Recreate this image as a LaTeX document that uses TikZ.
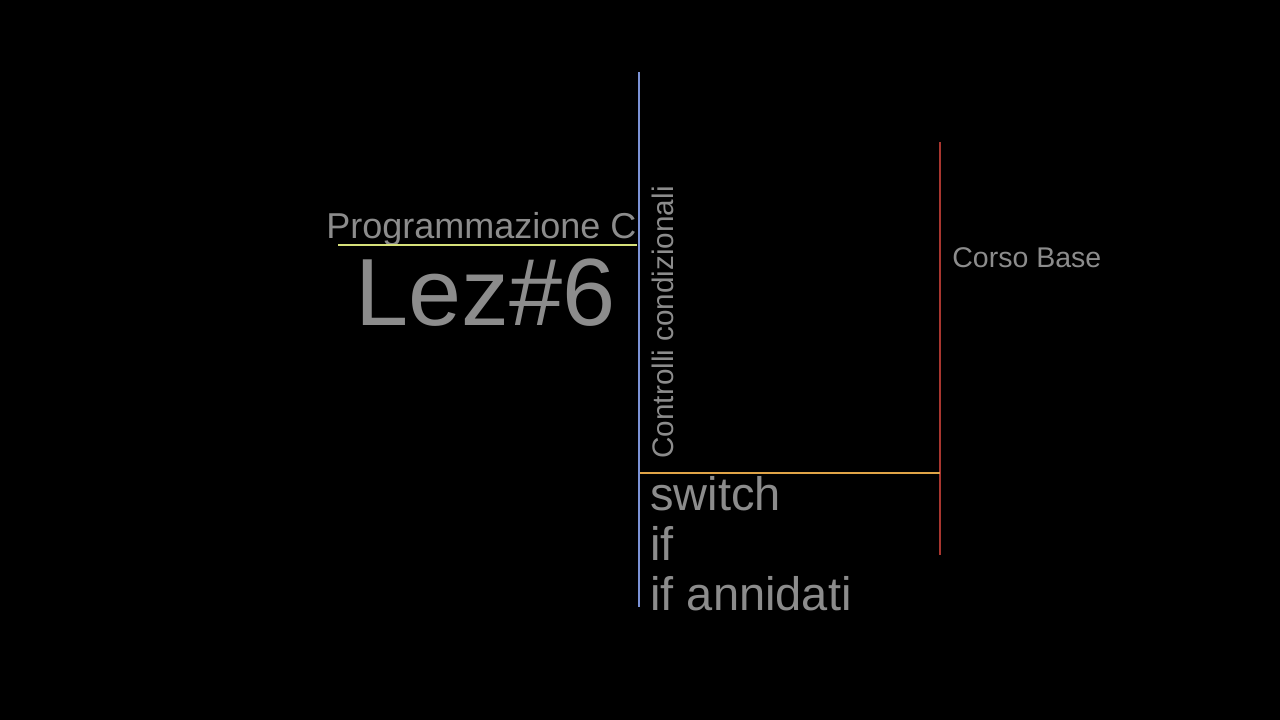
\documentclass[tikz,border=0pt]{standalone}
\usepackage{fontspec}
\setmainfont{Liberation Sans}
\usetikzlibrary{positioning, calc}

\definecolor{txtgray}{HTML}{8C8C8C}
\definecolor{lnblue}{HTML}{7C93D6}
\definecolor{lnyellow}{HTML}{D6E07A}
\definecolor{lnorange}{HTML}{E0A447}
\definecolor{lnred}{HTML}{A8362F}

\begin{document}
\begin{tikzpicture}[x=1pt, y=-1pt, thick,
		label/.style={text=txtgray, inner sep=0pt, anchor=base west},
		bar/.style={line width=1.5pt}]
		\fill[black] (0,0) rectangle (1280,720);
		\useasboundingbox (0,0) rectangle (1280,720);

		%Titolo:
		\node[label, font=\fontsize{36}{40}\selectfont]	(prog)	at (326,238)	{Programmazione C};
		\node[label, font=\fontsize{95.5}{100}\selectfont]	(lez)	at (355,325)	{Lez\#6};
		\node[label, font=\fontsize{29.7}{34}\selectfont, rotate=90]	(ctrl)	at (673,459)	{Controlli condizionali};
		\node[label, font=\fontsize{28.5}{32}\selectfont]	(corso)	at (952,267)	{Corso Base};

		%Argomenti:
		\node[label, font=\fontsize{47}{50}\selectfont]	(sw)	at (650,510)	{switch};
		\node[label, font=\fontsize{47}{50}\selectfont]	(if)	at ($(sw.base west)+(0,50)$)	{if};
		\node[label, font=\fontsize{47}{50}\selectfont]	(ifann)	at ($(if.base west)+(0,50)$)	{if annidati};

		%Linee:
		\coordinate (bt) at (639,72);
		\coordinate (bb) at (639,607);
		\coordinate (rt) at (940,142);
		\coordinate (rb) at (940,555);
		\coordinate (yl) at (338,245);
		\coordinate (yr) at (637,245);
		\coordinate (ol) at (640,473);
		\coordinate (or) at (940,473);
		\draw[bar, lnblue]	(bt) -- (bb);
		\draw[bar, lnred]	(rt) -- (rb);
		\draw[bar, lnyellow]	(yl) -- (yr);
		\draw[bar, lnorange]	(ol) -- (or);
	\end{tikzpicture}
\end{document}
